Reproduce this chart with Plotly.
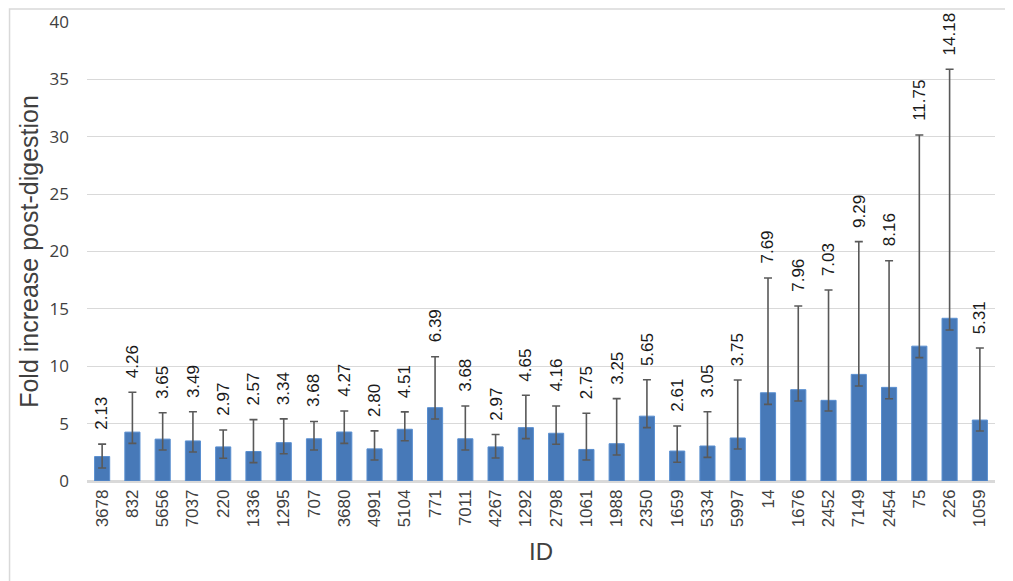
import plotly.graph_objects as go

ids = ["3678", "832", "5656", "7037", "220", "1336", "1295", "707", "3680", "4991",
       "5104", "771", "7011", "4267", "1292", "2798", "1061", "1988", "2350", "1659",
       "5334", "5997", "14", "1676", "2452", "7149", "2454", "75", "226", "1059"]

fold = [2.13, 4.26, 3.65, 3.49, 2.97, 2.57, 3.34, 3.68, 4.27, 2.80,
        4.51, 6.39, 3.68, 2.97, 4.65, 4.16, 2.75, 3.25, 5.65, 2.61,
        3.05, 3.75, 7.69, 7.96, 7.03, 9.29, 8.16, 11.75, 14.18, 5.31]

err_upper = [1.08, 3.47, 2.30, 2.55, 1.48, 2.78, 2.07, 1.51, 1.83, 1.57,
             1.51, 4.44, 2.86, 1.08, 2.82, 2.38, 3.15, 3.93, 3.18, 2.18,
             2.99, 5.05, 10.00, 7.29, 9.61, 11.57, 11.04, 18.40, 21.70, 6.28]

err_lower = [1.00, 0.98, 0.95, 0.96, 0.99, 0.97, 0.96, 0.98, 0.99, 0.97,
             1.00, 0.99, 0.98, 0.97, 0.96, 0.96, 0.92, 0.98, 1.00, 0.98,
             0.99, 0.96, 1.01, 0.99, 0.93, 1.01, 0.99, 1.00, 1.02, 0.95]

y_ticks = [0, 5, 10, 15, 20, 25, 30, 35, 40]

FONT = "Liberation Sans, Arial, sans-serif"

W, H = 1005, 573
L, R, T, B = 78.5, 18, 14, 100
pw, ph = W - L - R, H - T - B

fig = go.Figure()
fig.add_trace(go.Bar(
    x=ids, y=fold,
    marker=dict(color="#4779b8", line=dict(color="#5a8fd0", width=1)),
    error_y=dict(type="data", symmetric=False, array=err_upper, arrayminus=err_lower,
                 color="#595959", thickness=1.6, width=4),
    hoverinfo="x+y",
))

annotations = []
for i, (v, up) in enumerate(zip(fold, err_upper)):
    annotations.append(dict(
        x=i, y=v + up, xref="x", yref="y",
        text=f"{v:.2f}", showarrow=False, textangle=-90,
        xanchor="center", yanchor="bottom", yshift=12,
        font=dict(family=FONT, size=17, color="#1a1a1a"),
    ))

fig.update_layout(
    width=W, height=H,
    margin=dict(l=L, r=R, t=T, b=B, autoexpand=False),
    paper_bgcolor="white", plot_bgcolor="white",
    bargap=0.5,
    showlegend=False,
    annotations=annotations,
    shapes=[dict(type="rect", xref="paper", yref="paper",
                 x0=(1 - L) / pw, x1=(W - 4 - L) / pw,
                 y0=(B - (H - 4)) / ph, y1=(H - 1 - B) / ph,
                 line=dict(color="#d9d9d9", width=1.5), fillcolor="rgba(0,0,0,0)",
                 layer="below")],
    xaxis=dict(
        type="category", categoryorder="array", categoryarray=ids,
        range=[-0.5, len(ids) - 0.5],
        tickangle=-90, showgrid=False,
        tickfont=dict(family=FONT, size=17, color="#404040"),
        title=dict(text="ID", font=dict(family=FONT, size=24, color="#404040"), standoff=17),
        showline=True, linecolor="#d9d9d9", linewidth=1.5, ticks="",
        automargin=False,
    ),
    yaxis=dict(
        range=[0, 40], tickvals=y_ticks, ticktext=[str(t) for t in y_ticks],
        showgrid=True, gridcolor="#d9d9d9", gridwidth=1.2,
        zeroline=True, zerolinecolor="#d9d9d9", zerolinewidth=1.5,
        tickfont=dict(family="Open Sans, sans-serif", size=17, color="#404040"),
        ticks="", ticklabelstandoff=17,
        title=dict(text="Fold increase post-digestion",
                   font=dict(family=FONT, size=25, color="#404040"), standoff=3),
        automargin=False,
    ),
)

fig.write_html("out.html")
